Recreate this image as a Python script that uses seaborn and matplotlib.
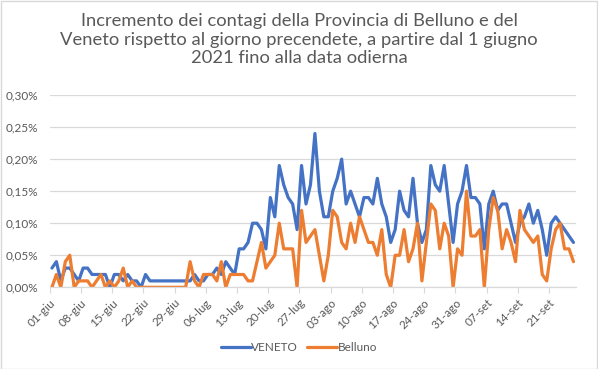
import numpy as np
import pandas as pd
import matplotlib
matplotlib.use("Agg")
import matplotlib.pyplot as plt
import matplotlib.dates as mdates
import seaborn as sns

# ---- data (percent increase vs previous day), 1 Jun 2021 .. 26 Sep 2021 ----
start_date = "2021-06-01"
veneto_jun = [0.03, 0.04, 0.01, 0.03, 0.03, 0.02, 0.01, 0.03, 0.03, 0.02,
              0.02, 0.02, 0.02, 0.00, 0.02, 0.02, 0.01, 0.02, 0.01, 0.01,
              0.00, 0.02, 0.01, 0.01, 0.01, 0.01, 0.01, 0.01, 0.01, 0.01]
veneto_jul = [0.01, 0.01, 0.02, 0.01, 0.01, 0.02, 0.02, 0.03, 0.02, 0.04,
              0.03, 0.02, 0.06, 0.06, 0.07, 0.10, 0.10, 0.09, 0.06, 0.14,
              0.11, 0.19, 0.16, 0.14, 0.13, 0.09, 0.19, 0.13, 0.16, 0.24,
              0.15]
veneto_aug = [0.11, 0.11, 0.15, 0.17, 0.20, 0.13, 0.15, 0.13, 0.11, 0.14,
              0.14, 0.13, 0.17, 0.13, 0.11, 0.07, 0.09, 0.15, 0.12, 0.11,
              0.17, 0.10, 0.07, 0.09, 0.19, 0.16, 0.15, 0.19, 0.13, 0.07,
              0.13]
veneto_sep = [0.15, 0.19, 0.14, 0.14, 0.13, 0.06, 0.13, 0.15, 0.12, 0.13,
              0.13, 0.10, 0.07, 0.10, 0.11, 0.13, 0.10, 0.12, 0.09, 0.05,
              0.10, 0.11, 0.10, 0.09, 0.08, 0.07]

belluno_jun = [0.00, 0.02, 0.00, 0.04, 0.05, 0.00, 0.01, 0.01, 0.01, 0.00,
               0.01, 0.02, 0.00, 0.01, 0.00, 0.01, 0.03, 0.00, 0.01, 0.00,
               0.00, 0.00, 0.00, 0.00, 0.00, 0.00, 0.00, 0.00, 0.00, 0.00]
belluno_jul = [0.00, 0.04, 0.01, 0.00, 0.02, 0.02, 0.02, 0.01, 0.04, 0.00,
               0.02, 0.02, 0.02, 0.02, 0.01, 0.01, 0.04, 0.07, 0.03, 0.04,
               0.05, 0.10, 0.06, 0.06, 0.06, 0.00, 0.12, 0.07, 0.08, 0.09,
               0.05]
belluno_aug = [0.01, 0.05, 0.12, 0.11, 0.07, 0.06, 0.10, 0.07, 0.11, 0.09,
               0.07, 0.07, 0.05, 0.09, 0.02, 0.00, 0.05, 0.05, 0.09, 0.04,
               0.06, 0.10, 0.01, 0.07, 0.13, 0.12, 0.06, 0.10, 0.08, 0.00,
               0.06]
belluno_sep = [0.05, 0.15, 0.08, 0.08, 0.09, 0.00, 0.09, 0.14, 0.12, 0.06,
               0.09, 0.07, 0.04, 0.12, 0.09, 0.08, 0.07, 0.08, 0.02, 0.01,
               0.06, 0.09, 0.10, 0.06, 0.06, 0.04]

series_names = ["VENETO", "Belluno"]
month_abbr = {6: "giu", 7: "lug", 8: "ago", 9: "set"}
title = ("Incremento dei contagi della Provincia di Belluno e del\n"
         "Veneto rispetto al giorno precendete, a partire dal 1 giugno\n"
         "2021 fino alla data odierna")

veneto = veneto_jun + veneto_jul + veneto_aug + veneto_sep
belluno = belluno_jun + belluno_jul + belluno_aug + belluno_sep
dates = pd.date_range(start_date, periods=len(veneto), freq="D")

df = pd.DataFrame({
    "data": list(dates) * 2,
    "valore": veneto + belluno,
    "serie": [series_names[0]] * len(veneto) + [series_names[1]] * len(belluno),
})

# ---- style ----
sns.set_theme(style="white")
plt.rcParams["font.family"] = ["Lato", "DejaVu Sans"]
grey_txt = "#595959"
grid_col = "#d9d9d9"

fig = plt.figure(figsize=(5.98, 3.69), dpi=100)
ax = fig.add_axes([0.0831, 0.2214, 0.8796, 0.5211])

sns.lineplot(data=df, x="data", y="valore", hue="serie",
             palette=["#4472C4", "#ED7D31"], linewidth=2.3, ax=ax,
             legend=True)

# x axis
d0 = mdates.date2num(dates[0])
d1 = mdates.date2num(dates[-1])
ax.set_xlim(d0 - 0.5, d1 + 0.5)
tick_dates = dates[::7]
ax.set_xticks([mdates.date2num(d) - 0.5 for d in tick_dates])
ax.set_xticklabels([f"{d.day:02d}-{month_abbr[d.month]}" for d in tick_dates],
                   rotation=45, ha="right", rotation_mode="anchor",
                   fontsize=8.5, color=grey_txt)
ax.tick_params(axis="x", length=4, width=0.8, color=grid_col, pad=3,
               direction="out", bottom=True)

# y axis
ax.set_ylim(0, 0.30)
yt = np.arange(0, 0.301, 0.05)
ax.set_yticks(yt)
ax.set_yticklabels([f"{v:.2f}%".replace(".", ",") for v in yt],
                   fontsize=8.5, color=grey_txt)
ax.tick_params(axis="y", length=0, pad=8)
ax.yaxis.grid(True, color=grid_col, linewidth=0.9)
ax.set_axisbelow(True)
ax.set_xlabel("")
ax.set_ylabel("")
for s in ["top", "right", "left"]:
    ax.spines[s].set_visible(False)
ax.spines["bottom"].set_color(grid_col)
ax.spines["bottom"].set_linewidth(0.9)

# legend
handles, labels = ax.get_legend_handles_labels()
ax.get_legend().remove()
fig.legend(handles, labels, loc="center", bbox_to_anchor=(0.5, 0.057),
           ncol=2, frameon=False, fontsize=8.5, handlelength=2.5,
           columnspacing=0.8, handletextpad=0.05, labelcolor=grey_txt)

# title
fig.text(0.5, 0.965, title, ha="center", va="top", fontsize=13.2,
         color=grey_txt, linespacing=1.2)

# chart border
fig.patches.append(plt.Rectangle((0.001, 0.001), 0.998, 0.997,
                                 transform=fig.transFigure, fill=False,
                                 edgecolor=grid_col, linewidth=1.0))

fig.savefig("out.png", dpi=100)
